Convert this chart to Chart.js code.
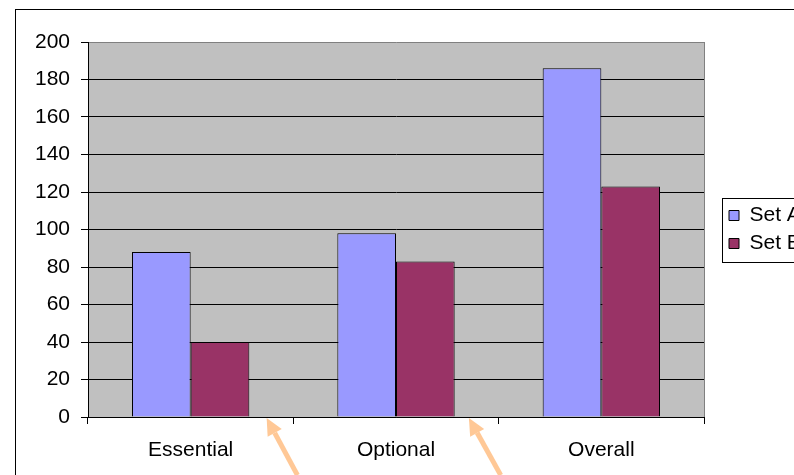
<!DOCTYPE html>
<html>
<head>
<meta charset="utf-8">
<script src="https://cdn.jsdelivr.net/npm/chart.js@4/dist/chart.umd.min.js"></script>
<style>
  html, body { margin: 0; padding: 0; background: #fff; overflow: hidden; width: 794px; height: 475px; }
  #wrap { position: absolute; left: 0; top: 0; width: 900px; height: 475px; }
</style>
</head>
<body>
<div id="wrap"><canvas id="c" width="900" height="475"></canvas></div>
<script>
// Categories and series values
const categories = ['Essential', 'Optional', 'Overall'];
const setA = [88, 98, 186];
const setB = [40, 83, 123];
const seriesNames = ['Set A', 'Set B'];

// Value axis range
const yMin = 0;
const yMax = 200;
const yStep = 20;

// Pointer arrows in data space: tip and tail as [category index, value]
const arrowTips = [[0.37, -0.5], [1.355, -0.5]];
const arrowTails = [[0.52, -31], [1.51, -31]];

const FONT = '"Liberation Sans", Arial, sans-serif';
const FONT_SIZE = 21;
const PLOT_RIGHT = 704;

const backdrop = {
  id: 'backdrop',
  beforeDraw(chart) {
    const { ctx, chartArea: a } = chart;
    ctx.save();
    ctx.fillStyle = '#fff';
    ctx.fillRect(0, 0, chart.width, chart.height);
    // outer chart frame
    ctx.strokeStyle = '#000';
    ctx.lineWidth = 1;
    ctx.strokeRect(15.5, 9.5, 1000, 1000);
    // plot area fill
    ctx.fillStyle = '#c0c0c0';
    ctx.fillRect(a.left, a.top, a.right - a.left, a.bottom - a.top);
    // plot area border (right side)
    ctx.strokeStyle = '#808080';
    ctx.beginPath();
    ctx.moveTo(Math.round(a.right) + 0.5, a.top);
    ctx.lineTo(Math.round(a.right) + 0.5, a.bottom);
    ctx.stroke();
    ctx.restore();
  },
  afterDraw(chart) {
    const { ctx } = chart;
    ctx.save();
    // legend frame
    const lg = chart.legend;
    const hb = lg.legendHitBoxes;
    if (hb && hb.length) {
      const mid = (hb[0].top + hb[hb.length - 1].top + hb[hb.length - 1].height) / 2;
      ctx.strokeStyle = '#000';
      ctx.lineWidth = 1;
      ctx.strokeRect(Math.round(lg.left) + 0.5, Math.round(mid - 32) + 0.5, 300, 64);
    }
    // pointer arrows
    const xs = chart.scales.x, ys = chart.scales.y;
    ctx.strokeStyle = '#ffc896';
    ctx.fillStyle = '#ffc896';
    ctx.lineWidth = 5;
    arrowTips.forEach((tip, i) => {
      const tail = arrowTails[i];
      const tx = xs.getPixelForValue(tip[0]), ty = ys.getPixelForValue(tip[1]);
      const sx = xs.getPixelForValue(tail[0]), sy = ys.getPixelForValue(tail[1]);
      const ang = Math.atan2(ty - sy, tx - sx);
      const headLen = 17, headHalf = 8;
      const bx = tx - headLen * Math.cos(ang), by = ty - headLen * Math.sin(ang);
      ctx.beginPath();
      ctx.moveTo(sx, sy);
      ctx.lineTo(bx, by);
      ctx.stroke();
      ctx.beginPath();
      ctx.moveTo(tx, ty);
      ctx.lineTo(bx + headHalf * Math.sin(ang), by - headHalf * Math.cos(ang));
      ctx.lineTo(bx - headHalf * Math.sin(ang), by + headHalf * Math.cos(ang));
      ctx.closePath();
      ctx.fill();
    });
    ctx.restore();
  }
};

const chart = new Chart(document.getElementById('c'), {
  type: 'bar',
  data: {
    labels: categories,
    datasets: [
      { label: seriesNames[0], data: setA, backgroundColor: '#9999ff', borderColor: '#000', borderWidth: 1 },
      { label: seriesNames[1], data: setB, backgroundColor: '#993366', borderColor: '#000', borderWidth: 1 }
    ]
  },
  options: {
    responsive: false,
    animation: false,
    devicePixelRatio: 1,
    datasets: { bar: { categoryPercentage: 2 / 3.5, barPercentage: 1 } },
    layout: { padding: { left: 0, top: 42, right: 0, bottom: 0 } },
    plugins: {
      tooltip: { enabled: false },
      legend: {
        position: 'right',
        fullSize: false,
        labels: {
          boxWidth: 10,
          boxHeight: 10,
          padding: 7,
          color: '#000',
          font: { family: FONT, size: FONT_SIZE }
        }
      }
    },
    scales: {
      x: {
        grid: { offset: true, drawOnChartArea: false, drawTicks: true, tickLength: 7, color: '#000' },
        border: { display: true, color: '#000', width: 1 },
        ticks: { color: '#000', padding: 14, font: { family: FONT, size: FONT_SIZE } },
        afterFit(s) { s.height = 58; }
      },
      y: {
        min: yMin,
        max: yMax,
        grid: {
          color: c => (c.tick && c.tick.value === yMax) ? '#808080' : '#000',
          tickColor: '#000',
          tickLength: 7,
          lineWidth: 1
        },
        border: { display: true, color: '#000', width: 1 },
        ticks: { stepSize: yStep, color: '#000', padding: 11, font: { family: FONT, size: FONT_SIZE } },
        afterFit(s) { s.width = 88; }
      },
      gap: {
        type: 'linear',
        position: 'right',
        display: true,
        grid: { display: false, drawTicks: false },
        border: { display: false },
        ticks: { display: false },
        afterFit(s) { s.width = 18; }
      }
    }
  },
  plugins: [backdrop]
});

// pin the plot area's right edge
chart.options.layout.padding.right = Math.max(0, chart.chartArea.right - PLOT_RIGHT);
chart.update('none');
</script>
</body>
</html>
